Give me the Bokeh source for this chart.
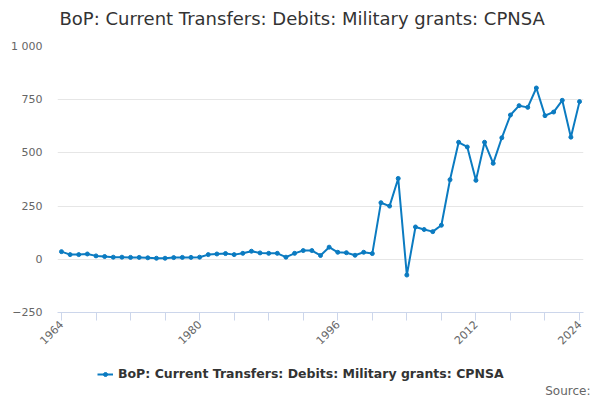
from math import pi

from bokeh.plotting import figure
from bokeh.layouts import column
from bokeh.models import Range1d, FixedTicker, Legend, LegendItem, Label
from bokeh.embed import file_html
from bokeh.resources import INLINE

title_text = "BoP: Current Transfers: Debits: Military grants: CPNSA"
series_name = "BoP: Current Transfers: Debits: Military grants: CPNSA"

years = list(range(1964, 2025))
values = [
    36, 22, 22, 25, 16, 13, 10, 10, 9, 9, 7, 5, 5, 8, 9, 9,
    10, 22, 25, 27, 22, 28, 38, 30, 28, 28, 10, 28, 41, 41, 18,
    57, 33, 31, 19, 33, 27, 266, 250, 380, -74, 152, 140, 130, 160,
    374, 550, 528, 371, 550, 451, 571, 678, 722, 714, 805, 675, 692,
    747, 574, 741,
]

x_ticks = list(range(1964, 2025, 4))
x_labelled = [1964, 1980, 1996, 2012, 2024]
y_ticks = [-250, 0, 250, 500, 750, 1000]

font = "DejaVu Sans"
line_color = "#0b7bc1"


def strip(height):
    # plain text strip with its own frame, not aligned to the chart's frame
    s = figure(
        width=600, height=height,
        output_backend="svg", toolbar_location=None,
        x_range=Range1d(0, 1), y_range=Range1d(0, 1),
        x_axis_type=None, y_axis_type=None,
        min_border=0,
    )
    s.frame_align = False
    s.outline_line_color = None
    s.grid.visible = False
    s.border_fill_color = "white"
    return s


# header with the title
head = strip(36)
head.add_layout(Label(
    x=59, y=18, x_units="screen", y_units="screen",
    text=title_text, text_font=font, text_font_size="18px",
    text_color="#333333", text_baseline="middle",
))

# main chart
p = figure(
    width=600, height=320,
    output_backend="svg", toolbar_location=None,
    x_range=Range1d(1963.54, 2024.46),
    y_range=Range1d(-250, 1000),
    min_border_left=57, min_border_right=17,
    min_border_top=10, min_border_bottom=44,
)
p.outline_line_color = None
p.background_fill_color = "white"
p.border_fill_color = "white"

p.line(years, values, line_width=2, color=line_color)
p.scatter(years, values, size=4, color=line_color)

# x axis
p.xaxis.ticker = FixedTicker(ticks=x_ticks)
p.xaxis.major_label_overrides = {
    t: (str(t) if t in x_labelled else "") for t in x_ticks
}
p.xaxis.major_label_orientation = pi / 4
p.xaxis.axis_line_color = "#ccd6eb"
p.xaxis.major_tick_line_color = "#ccd6eb"
p.xaxis.major_tick_out = 8
p.xaxis.major_tick_in = 0
p.xaxis.minor_tick_line_color = None
p.xaxis.major_label_text_font = font
p.xaxis.major_label_text_font_size = "11px"
p.xaxis.major_label_text_color = "#666666"
p.xaxis.major_label_standoff = 2
p.xgrid.grid_line_color = None

# y axis
p.yaxis.ticker = FixedTicker(ticks=y_ticks)
p.yaxis.major_label_overrides = {1000: "1 000"}
p.yaxis.axis_line_color = None
p.yaxis.major_tick_line_color = None
p.yaxis.major_tick_out = 0
p.yaxis.major_tick_in = 0
p.yaxis.minor_tick_line_color = None
p.yaxis.major_label_text_font = font
p.yaxis.major_label_text_font_size = "11px"
p.yaxis.major_label_text_color = "#666666"
p.yaxis.major_label_standoff = 15
p.ygrid.grid_line_color = "#e6e6e6"

# footer with legend and source line
foot = strip(44)

# same series, out of this strip's ranges, only to feed the legend key
key_line = foot.line(years, values, line_width=2, color=line_color)
key_pts = foot.scatter(years, values, size=4, color=line_color)

legend = Legend(
    items=[LegendItem(label=series_name, renderers=[key_line, key_pts])],
    location=(97, 19), orientation="horizontal",
    label_text_font=font, label_text_font_size="12.5px",
    label_text_font_style="bold", label_text_color="#333333",
    border_line_color=None, background_fill_alpha=0,
    glyph_width=16, glyph_height=10, padding=0, margin=0, label_standoff=5,
)
foot.add_layout(legend)

foot.add_layout(Label(
    x=590, y=10, x_units="screen", y_units="screen",
    text="Source:", text_font=font, text_font_size="12px",
    text_color="#666666", text_align="right", text_baseline="middle",
))

layout = column(head, p, foot, spacing=0)

open("out.html", "w").write(file_html(layout, INLINE))
